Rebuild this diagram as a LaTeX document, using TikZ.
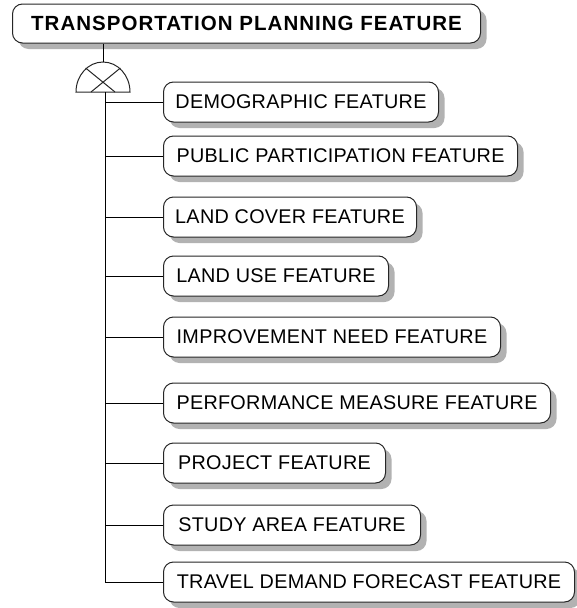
\documentclass[tikz,border=0pt]{standalone}
\usepackage{fontspec}
\setmainfont{Liberation Sans}
\usetikzlibrary{shadows}
\begin{document}
\begin{tikzpicture}[x=1pt,y=-1pt,
  boxshadow/.style={copy shadow={shadow xshift=6pt, shadow yshift=-6pt, fill=gray!60, draw=none}},
  rootbox/.style={draw=black!85, line width=1pt, fill=white, rounded corners=10pt, anchor=west,
     minimum height=39pt, minimum width=#1, inner sep=0pt, boxshadow,
     font=\fontsize{20.5}{22}\selectfont\bfseries\addfontfeature{LetterSpace=5}},
  featbox/.style={draw=black!85, line width=1pt, fill=white, rounded corners=10pt, anchor=west,
     minimum height=40pt, minimum width=#1, inner sep=0pt, boxshadow,
     font=\fontsize{19.8}{21}\selectfont\addfontfeature{LetterSpace=1.5}},
  link/.style={draw=black, line width=1pt},
  gateline/.style={draw=black!85, line width=1pt}]
\useasboundingbox (0,0) rectangle (576,608);
\node[rootbox=468pt] (root) at (12,23.5) {TRANSPORTATION PLANNING FEATURE};
\node[featbox=275pt] (demo) at (163,102) {DEMOGRAPHIC FEATURE};
\node[featbox=354pt] (pub) at (163,156) {PUBLIC PARTICIPATION FEATURE};
\node[featbox=253pt] (cover) at (163,217) {LAND COVER FEATURE};
\node[featbox=225pt] (use) at (163,276) {LAND USE FEATURE};
\node[featbox=337pt] (imp) at (163,337) {IMPROVEMENT NEED FEATURE};
\node[featbox=387pt] (perf) at (163,403) {PERFORMANCE MEASURE FEATURE};
\node[featbox=222pt] (proj) at (163,463) {PROJECT FEATURE};
\node[featbox=257pt] (study) at (163,525) {STUDY AREA FEATURE};
\node[featbox=411pt] (travel) at (163,582) {TRAVEL DEMAND FORECAST FEATURE};
% AND/OR gate
\coordinate (gate) at (103,92);
\coordinate (gatetop) at (103,62);
\coordinate (trunk) at (105,92);
\draw[gateline] (76,92) arc[start angle=180, end angle=360, x radius=27, y radius=30] -- cycle;
\draw[gateline] (91,92) -- (120.4,68) (115,92) -- (85.6,68);
\draw[link] (root.south -| gatetop) -- (gatetop);
\foreach \c in {demo,pub,cover,use,imp,perf,proj,study,travel}
  \draw[link] (trunk) |- (\c.west);
\end{tikzpicture}
\end{document}
